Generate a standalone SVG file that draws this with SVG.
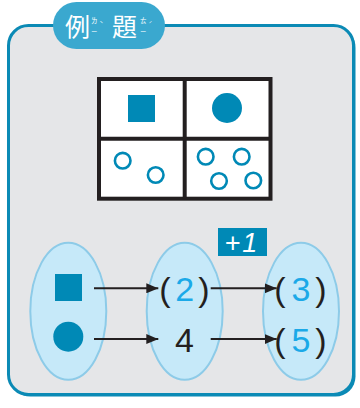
<svg xmlns="http://www.w3.org/2000/svg" width="360" height="408" viewBox="0 0 360 408">
  <defs>
    <style>
      .ell { fill: #c6e9f9; stroke: #8dcbe8; stroke-width: 2; }
      .shape { fill: #0089b6; }
      .ring { fill: none; stroke: #0089b6; stroke-width: 2.6; }
      .grid { fill: none; stroke: #231f20; stroke-width: 4; }
      .conn { stroke: #231f20; stroke-width: 2; fill: none; marker-end: url(#ah); }
      .num { font-family: "Liberation Sans", Arial, sans-serif; font-size: 34px; text-anchor: middle; }
      .blk { fill: #231f20; }
      .blu { fill: #1ba9e8; }
      .title { font-family: "Noto Sans CJK TC", "Noto Sans CJK SC", sans-serif; fill: #ffffff; }
      .zy { font-size: 6.5px; }
    </style>
    <marker id="ah" viewBox="0 0 12 10" refX="12" refY="5" markerWidth="12" markerHeight="10" markerUnits="userSpaceOnUse" orient="auto">
      <path d="M0,0 L12,5 L0,10 Z" fill="#231f20"/>
    </marker>
  </defs>
  <rect width="360" height="408" fill="#ffffff"/>

  <g id="panel">
    <rect x="10.5" y="27.5" width="345" height="369" rx="20" fill="#0b8ab5"/>
    <rect x="8.5" y="25.5" width="345" height="369" rx="20" fill="#e5e6e8" stroke="#0b8ab5" stroke-width="3"/>
  </g>

  <g id="tab">
    <rect x="53" y="2" width="112" height="47" rx="23.5" fill="#3aa8cf"/>
    <text class="title" font-size="25" x="65" y="36">例</text>
    <text class="title zy" x="91" y="23">ㄌ</text>
    <text class="title zy" x="91" y="34">ㄧ</text>
    <text class="title zy" x="99.5" y="27">ˋ</text>
    <text class="title" font-size="25" x="112" y="36">題</text>
    <text class="title zy" x="140" y="23">ㄊ</text>
    <text class="title zy" x="140" y="34">ㄧ</text>
    <text class="title zy" x="148.5" y="27">ˊ</text>
  </g>

  <g id="picture-grid">
    <rect x="99" y="79" width="171.5" height="119.7" fill="#ffffff"/>
    <rect class="grid" x="99" y="79" width="171.5" height="119.7"/>
    <line class="grid" x1="184.7" y1="79" x2="184.7" y2="198.7"/>
    <line class="grid" x1="99" y1="138.8" x2="270.5" y2="138.8"/>
    <rect class="shape" x="128" y="95" width="27" height="27"/>
    <circle class="shape" cx="227" cy="108" r="15"/>
    <circle class="ring" cx="122.7" cy="160.7" r="7.8"/>
    <circle class="ring" cx="155.7" cy="175" r="7.8"/>
    <circle class="ring" cx="205.7" cy="156.7" r="7.8"/>
    <circle class="ring" cx="241.7" cy="156.7" r="7.8"/>
    <circle class="ring" cx="219" cy="181" r="7.8"/>
    <circle class="ring" cx="253.3" cy="180.5" r="7.8"/>
  </g>

  <g id="plus-one">
    <rect x="218" y="228" width="49" height="28" fill="#0089b6"/>
    <text x="242" y="252" font-family="Liberation Sans, Arial, sans-serif" font-size="27" font-style="italic" fill="#ffffff" text-anchor="middle" letter-spacing="2">+1</text>
  </g>

  <g id="set-left">
    <ellipse class="ell" cx="68.3" cy="311.3" rx="38" ry="68.5"/>
    <rect class="shape" x="55" y="274" width="27" height="27"/>
    <circle class="shape" cx="68.3" cy="336.7" r="15"/>
  </g>

  <g id="set-middle">
    <ellipse class="ell" cx="184.7" cy="311.3" rx="38" ry="68.5"/>
    <text class="num blk" x="165" y="301">(</text>
    <text class="num blu" x="184.7" y="301">2</text>
    <text class="num blk" x="204" y="301">)</text>
    <text class="num blk" x="184.5" y="352">4</text>
  </g>

  <g id="set-right">
    <ellipse class="ell" cx="301" cy="311.3" rx="38" ry="68.5"/>
    <text class="num blk" x="280" y="301">(</text>
    <text class="num blu" x="301" y="301">3</text>
    <text class="num blk" x="321" y="301">)</text>
    <text class="num blk" x="280" y="352">(</text>
    <text class="num blu" x="301" y="352">5</text>
    <text class="num blk" x="321" y="352">)</text>
  </g>

  <g id="connectors">
    <line class="conn" x1="94" y1="288.3" x2="158.3" y2="288.3"/>
    <line class="conn" x1="94" y1="339" x2="158.3" y2="339"/>
    <line class="conn" x1="210.7" y1="288.3" x2="276.7" y2="288.3"/>
    <line class="conn" x1="210.7" y1="339" x2="276.7" y2="339"/>
  </g>
</svg>
